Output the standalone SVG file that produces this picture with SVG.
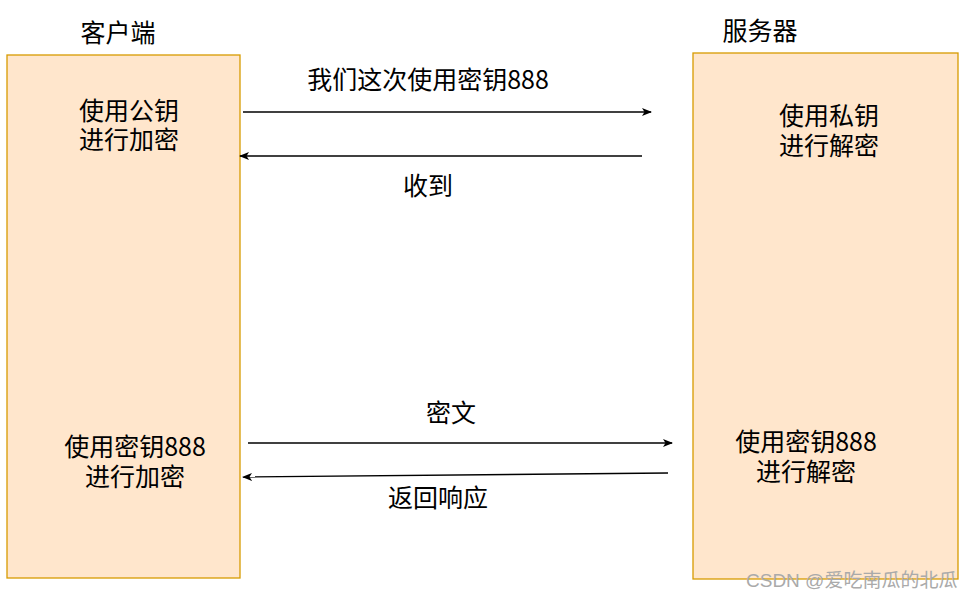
<svg xmlns="http://www.w3.org/2000/svg" width="973" height="599" viewBox="0 0 973 599">
<style>
.box{fill:#ffe6cc;stroke:#d79b00;stroke-width:1.3}
.t{font-family:"Noto Sans CJK SC","Liberation Sans",sans-serif;font-size:25px;fill:#000;text-anchor:middle}
.c{stroke:#000;stroke-width:1.3;fill:none;marker-end:url(#ah)}
.wm{font-family:"Liberation Sans","Noto Sans CJK SC",sans-serif;font-size:19px;fill:#aaa}
</style>
<defs>
<marker id="ah" viewBox="0 0 10 10" refX="9" refY="5" markerWidth="10" markerHeight="10" markerUnits="userSpaceOnUse" orient="auto">
<path d="M0,1 L10,5 L0,9 L2.5,5 Z" fill="#000"/>
</marker>
</defs>
<rect width="973" height="599" fill="#fff"/>
<g id="client">
<rect class="box" x="7" y="55" width="233" height="523"/>
<text class="t" x="118" y="42">客户端</text>
<text class="t" x="129" y="120">使用公钥<tspan x="129" dy="29">进行加密</tspan></text>
<text class="t" x="135" y="456">使用密钥888<tspan x="135" dy="30">进行加密</tspan></text>
</g>
<g id="server">
<rect class="box" x="693" y="53" width="265" height="526"/>
<text class="t" x="760" y="40">服务器</text>
<text class="t" x="829" y="125">使用私钥<tspan x="829" dy="30">进行解密</tspan></text>
<text class="t" x="806" y="451">使用密钥888<tspan x="806" dy="30">进行解密</tspan></text>
</g>
<g id="connectors">
<line class="c" x1="243" y1="112" x2="651" y2="112"/>
<line class="c" x1="642" y1="156" x2="240" y2="156"/>
<line class="c" x1="248" y1="443" x2="672" y2="443"/>
<line class="c" x1="668" y1="473" x2="243" y2="477"/>
<text class="t" x="428" y="89">我们这次使用密钥888</text>
<text class="t" x="428" y="195">收到</text>
<text class="t" x="451" y="422">密文</text>
<text class="t" x="438" y="507">返回响应</text>
</g>
<text class="wm" x="746" y="587">CSDN @爱吃南瓜的北瓜</text>
</svg>
